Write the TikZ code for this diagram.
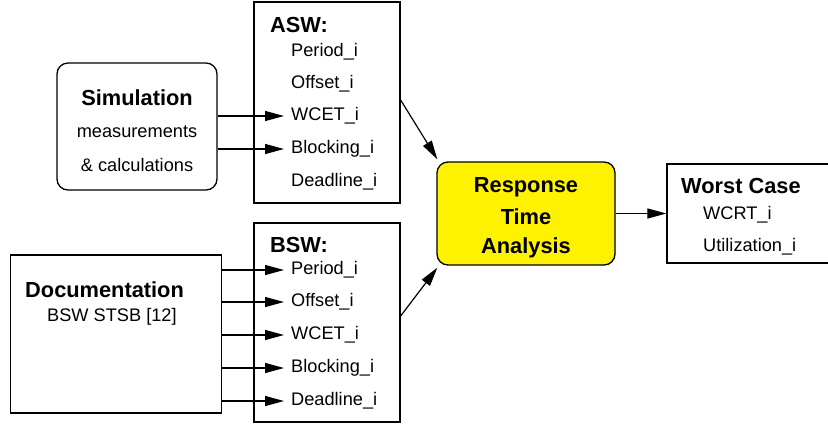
\documentclass[tikz,border=0pt]{standalone}
\usepackage{fontspec}
\setmainfont{Liberation Sans}
\usetikzlibrary{arrows.meta,calc}
\tikzset{
  box/.style={draw, line width=1.3pt, inner sep=0pt, fill=white},
  rbox/.style={box, rounded corners=11pt},
  txt/.style={inner ysep=2pt, inner xsep=7pt, font=\fontsize{18.2}{20}\selectfont},
  ttl/.style={inner sep=2pt, font=\fontsize{21.8}{24}\bfseries\selectfont},
  arr/.style={line width=1.2pt, -{Triangle[length=19pt,width=10pt]}},
}
\begin{document}
\begin{tikzpicture}[x=1pt,y=-1pt]
\useasboundingbox (0,0) rectangle (828,424);
% boxes
\node[rbox, minimum width=160pt, minimum height=127pt] (sim) at (137,126.5) {};
\node[box, minimum width=146pt, minimum height=201pt] (asw) at (327,102.5) {};
\node[box, minimum width=146pt, minimum height=199pt] (bsw) at (327,322.5) {};
\node[box, minimum width=211pt, minimum height=158pt] (doc) at (116,334) {};
\node[rbox, fill=yellow, minimum width=178pt, minimum height=103pt] (rta) at (526,213.5) {};
\node[box, minimum width=162pt, minimum height=99pt] (wc) at (748,213.5) {};
% simulation texts
\node[ttl] (simt) at (137,98) {Simulation};
\node[txt] (sim1) at (137,132) {measurements};
\node[txt] (sim2) at (137,165) {\& calculations};
% ASW
\node[ttl, anchor=west] (aswt) at (268,25) {ASW:};
\node[txt, anchor=west] (a1) at (284,52) {Period\_i};
\node[txt, anchor=west] (a2) at (284,84) {Offset\_i};
\node[txt, anchor=west] (a3) at (284,116) {WCET\_i};
\node[txt, anchor=west] (a4) at (284,149) {Blocking\_i};
\node[txt, anchor=west] (a5) at (284,182) {Deadline\_i};
% BSW
\node[ttl, anchor=west] (bswt) at (268,245) {BSW:};
\node[txt, anchor=west] (b1) at (284,270) {Period\_i};
\node[txt, anchor=west] (b2) at (284,302) {Offset\_i};
\node[txt, anchor=west] (b3) at (284,335) {WCET\_i};
\node[txt, anchor=west] (b4) at (284,368) {Blocking\_i};
\node[txt, anchor=west] (b5) at (284,401) {Deadline\_i};
% documentation
\node[ttl, anchor=west] (doct) at (23,290) {Documentation};
\node[txt, anchor=west] (doc1) at (40,317) {BSW STSB [12]};
% RTA
\node[ttl] (rtat) at (526,187) {Response};
\node[ttl] (rta2) at (526,217) {Time};
\node[ttl] (rta3) at (526,248) {Analysis};
% worst case
\node[ttl, anchor=west] (wct) at (679,186) {Worst Case};
\node[txt, anchor=west] (wc1) at (696,215) {WCRT\_i};
\node[txt, anchor=west] (wc2) at (696,247) {Utilization\_i};
% arrows
\draw[arr] (sim.east |- a3.west) -- (a3.west);
\draw[arr] (sim.east |- a4.west) -- (a4.west);
\foreach \b in {b1,b2,b3,b4,b5}{
  \draw[arr] (doc.east |- \b.west) -- (\b.west);
}
\draw[arr] (asw.east |- 0,100) -- ($(rta.north west)+(1,-2)$);
\draw[arr] (bsw.east |- 0,316) -- ($(rta.south west)+(1,2)$);
\draw[arr] (rta.east) -- (wc.west);
\end{tikzpicture}
\end{document}
